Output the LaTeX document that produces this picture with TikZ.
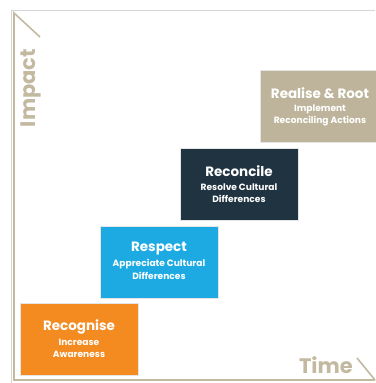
\documentclass[tikz,border=0pt]{standalone}
\usepackage{fontspec}
\setmainfont{Poppins}
\definecolor{frameGray}{HTML}{D6D6D6}
\definecolor{axisBeige}{HTML}{C2B9A0}
\definecolor{stageOrange}{HTML}{F48B21}
\definecolor{stageBlue}{HTML}{1DAAE2}
\definecolor{stageDark}{HTML}{1F3341}
\definecolor{stageBeige}{HTML}{BDB49B}
\tikzset{
  stagebox/.style={rectangle, minimum width=118pt, minimum height=72pt, inner sep=0pt, draw=white!80!gray, line width=0.5pt},
  stagetitle/.style={text=white, inner sep=0pt, font=\bfseries\fontsize{13.5}{14}\selectfont},
  stagesub/.style={text=white, inner sep=0pt, font=\bfseries\fontsize{9.1}{10}\selectfont},
  axislabel/.style={text=axisBeige, inner sep=0pt, font=\bfseries\fontsize{21}{23}\selectfont},
  axisline/.style={draw=axisBeige, line width=1.6pt},
}
\begin{document}
\begin{tikzpicture}[x=1pt, y=-1pt]
\useasboundingbox (0,0) rectangle (375,383);
% outer light frame
\draw[frameGray, line width=0.8pt] (11,383) -- (11,10) -- (375,10);
% axes with half arrow heads
\coordinate (origin) at (14,380);
\coordinate (ytop) at (14,13);
\coordinate (xend) at (375,380);
\coordinate (ytick) at (40,37);
\coordinate (xtick) at (357,358);
\draw[axisline] (ytick) -- (ytop) -- (origin) -- (xend);
\draw[axisline] (xtick) -- (xend);
\node[axislabel, rotate=90] (impact) at (31,88) {Impact};
\node[axislabel, anchor=base east] (time) at (353,373) {Time};
% stages (yshift is measured upwards on the page)
\node[stagebox, fill=stageOrange] (recognise) at (79,339) {};
\node[stagebox, fill=stageBlue] (respect) at (159,262) {};
\node[stagebox, fill=stageDark] (reconcile) at (239,184) {};
\node[stagebox, fill=stageBeige, minimum width=120pt] (realise) at (320,106) {};
% stage texts
\node[stagetitle] (recogniseT) at ([yshift=12pt]recognise.center) {Recognise};
\node[stagesub] (recogniseA) at ([yshift=-3pt]recognise.center) {Increase};
\node[stagesub] (recogniseB) at ([yshift=-15pt]recognise.center) {Awareness};
\node[stagetitle] (respectT) at ([yshift=13pt]respect.center) {Respect};
\node[stagesub] (respectA) at ([yshift=-2pt]respect.center) {Appreciate Cultural};
\node[stagesub] (respectB) at ([yshift=-14pt]respect.center) {Differences};
\node[stagetitle] (reconcileT) at ([yshift=13pt]reconcile.center) {Reconcile};
\node[stagesub] (reconcileA) at ([yshift=-3pt]reconcile.center) {Resolve Cultural};
\node[stagesub] (reconcileB) at ([yshift=-15pt]reconcile.center) {Differences};
\node[stagetitle] (realiseT) at ([yshift=13pt]realise.center) {Realise \& Root};
\node[stagesub] (realiseA) at ([yshift=-3pt]realise.center) {Implement};
\node[stagesub] (realiseB) at ([yshift=-15pt]realise.center) {Reconciling Actions};
\end{tikzpicture}
\end{document}
